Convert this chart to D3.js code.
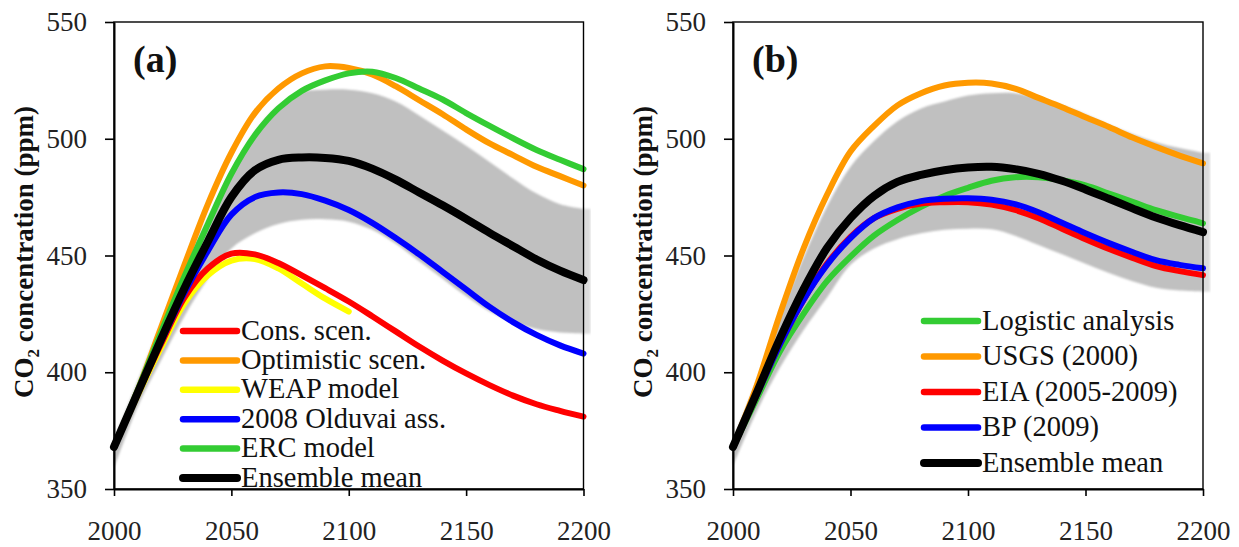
<!DOCTYPE html>
<html>
<head>
<meta charset="utf-8">
<script src="https://cdn.jsdelivr.net/npm/d3@7"></script>
<style>
  body { margin: 0; background: #fff; }
  svg { display: block; }
  text { font-family: "Liberation Serif", "DejaVu Serif", serif; }
</style>
</head>
<body>
<svg id="chart" width="1239" height="547"></svg>
<script>
// ---- shared axes ----
const years = [2000, 2010, 2020, 2030, 2040, 2050, 2060, 2070, 2080, 2090, 2100,
               2110, 2120, 2130, 2140, 2150, 2160, 2170, 2180, 2190, 2200];
const yearsTo2100 = [2000, 2010, 2020, 2030, 2040, 2050, 2060, 2070, 2080, 2090, 2100];
const xTicks = [2000, 2050, 2100, 2150, 2200];
const yTicks = [350, 400, 450, 500, 550];

// ---- panel (a): scenario / model projections (ppm) ----
const consScen   = [368, 390.5, 412, 432, 444.5, 450.8, 450.5, 446.8, 441.5, 436, 430.3,
                    424, 417.5, 411, 405, 399.5, 394.5, 390, 386.3, 383.5, 381];
const optimScen  = [368, 392, 419, 446, 472, 494, 511, 521.5, 528, 531, 530.3,
                    527.5, 522.5, 516.5, 510.5, 504, 498, 493, 488, 484, 480];
const weapModel  = [368, 390, 410.5, 429.5, 441.5, 447.8, 448.5, 444.5, 438, 431.5, 426];
const olduvai    = [368, 391, 413, 434, 452, 467.5, 475, 477, 476.3, 473.5, 469.5,
                    464, 457.5, 450.5, 443, 435.5, 428, 421.5, 416, 411.5, 408];
const ercModel   = [368, 392, 417, 441, 463.5, 485, 501.5, 513, 520.5, 525, 528,
                    528.7, 526, 521.5, 516.8, 511, 505.5, 500.2, 495.2, 491, 487];
const meanA      = [368, 391, 414, 436, 456, 475, 486.5, 491, 492, 491.8, 490.5,
                    487.2, 482.5, 477, 471.5, 465.7, 459.7, 454, 448.3, 443.5, 439.5];
const bandLowA   = [359, 385, 405, 424, 440, 453, 459.5, 463.5, 465.3, 465.5, 464.5,
                    461, 455, 447.5, 440, 432.5, 426, 421.5, 418.5, 417, 416.5];
const bandHighA  = [371, 396, 421, 446, 466, 486, 503, 514, 520, 521, 521,
                    519.5, 516, 510, 503.5, 497, 490, 483, 476.5, 472, 470];

// ---- panel (b): reserve-estimate projections (ppm) ----
const logistic   = [368, 388.5, 409, 425, 439, 449.5, 458.5, 465.2, 470.8, 475.5, 479,
                    482, 483.5, 483.5, 482.2, 480, 476.5, 473, 469.4, 466.5, 463.8];
const usgs       = [368, 394, 425, 453, 476, 494.5, 505.5, 514.3, 519.5, 522.8, 524,
                    523.7, 521.5, 517.5, 513.5, 509.2, 505, 500.5, 496.5, 492.8, 489.5];
const eia        = [368, 390, 412, 431, 446.5, 458, 466, 470, 472.3, 472.8, 472.8,
                    471.8, 469.5, 466, 461.5, 457, 452.8, 449, 445.5, 443.3, 441.6];
const bp         = [368, 390, 412, 431, 446, 457.5, 466, 470.6, 473.3, 474.3, 474.5,
                    473.9, 472, 468.5, 464, 459.5, 455.3, 451.5, 448, 446, 444.5];
const meanB      = [368, 391, 414.5, 435.5, 453.2, 466, 475.5, 481.5, 484.5, 486.5, 487.7,
                    488, 487, 485, 482, 478.3, 474.3, 470.2, 466.3, 463, 460];
const bandLowB   = [360, 383, 402, 418, 432, 446, 453, 457, 459.5, 461, 461.5,
                    461.2, 458.5, 454.5, 450.5, 446.5, 442.5, 439, 436.2, 435, 434.5];
const bandHighB  = [371, 396, 424, 449, 471, 488, 499, 507.5, 513, 516, 518.5,
                    519.5, 519.5, 517.5, 514.5, 510.5, 506, 502, 498.5, 496, 494];

const legendA = ["Cons. scen.", "Optimistic scen.", "WEAP model", "2008 Olduvai ass.", "ERC model", "Ensemble mean"];
const legendB = ["Logistic analysis", "USGS (2000)", "EIA (2005-2009)", "BP (2009)", "Ensemble mean"];

const C = { red: "#ff0000", orange: "#ff9900", yellow: "#ffff00", blue: "#0000ff", green: "#33cc33", black: "#000000" };

const panels = [
  {
    x0: 114, x1: 583.5, tag: "(a)",
    band: [bandLowA, bandHighA],
    // drawing order (bottom to top)
    series: [
      { x: yearsTo2100, y: weapModel, color: C.yellow, w: 6 },
      { x: years, y: consScen,  color: C.red,    w: 6 },
      { x: years, y: optimScen, color: C.orange, w: 6 },
      { x: years, y: ercModel,  color: C.green,  w: 6 },
      { x: years, y: olduvai,   color: C.blue,   w: 6 },
      { x: years, y: meanA,     color: C.black,  w: 8 }
    ],
    legend: { names: legendA, colors: [C.red, C.orange, C.yellow, C.blue, C.green, C.black],
              x: 183, y: 331, step: 29.4 }
  },
  {
    x0: 733, x1: 1203, tag: "(b)",
    band: [bandLowB, bandHighB],
    series: [
      { x: years, y: usgs,     color: C.orange, w: 6 },
      { x: years, y: logistic, color: C.green,  w: 6 },
      { x: years, y: eia,      color: C.red,    w: 6 },
      { x: years, y: bp,       color: C.blue,   w: 6 },
      { x: years, y: meanB,    color: C.black,  w: 8 }
    ],
    legend: { names: legendB, colors: [C.green, C.orange, C.red, C.blue, C.black],
              x: 924, y: 321, step: 35.5 }
  }
];

const FONT = "'Liberation Serif', 'DejaVu Serif', serif";
const svg = d3.select("#chart");
const defs = svg.append("defs");
defs.append("filter").attr("id", "soft").attr("x", "-5%").attr("y", "-5%").attr("width", "110%").attr("height", "110%")
  .append("feGaussianBlur").attr("stdDeviation", 1.3);

const yTop = 22, yBottom = 489;
const smooth = d3.curveCatmullRom.alpha(0.5);

panels.forEach(p => {
  const x = d3.scaleLinear().domain([2000, 2200]).range([p.x0, p.x1]);
  const y = d3.scaleLinear().domain([350, 550]).range([yBottom, yTop]);
  const g = svg.append("g");
  const last = years.length - 1;

  // uncertainty band of the ensemble, with its pale fringe past the last year
  g.append("rect")
    .attr("x", x(2200)).attr("width", 7)
    .attr("y", y(p.band[1][last])).attr("height", y(p.band[0][last]) - y(p.band[1][last]))
    .attr("fill", "#dcdcdc").attr("filter", "url(#soft)");
  const area = d3.area()
    .x((d, i) => x(years[i]))
    .y0((d, i) => y(p.band[0][i]))
    .y1((d, i) => y(p.band[1][i]))
    .curve(smooth);
  g.append("path").datum(p.band[0]).attr("d", area)
    .attr("fill", "#c0c0c0").attr("filter", "url(#soft)");

  // projection curves
  p.series.forEach(s => {
    const line = d3.line()
      .x((d, i) => x(s.x[i]))
      .y(d => y(d))
      .curve(smooth);
    g.append("path").datum(s.y).attr("d", line)
      .attr("fill", "none").attr("stroke", s.color).attr("stroke-width", s.w)
      .attr("stroke-linecap", "round").attr("stroke-linejoin", "round");
  });

  // frame
  g.append("rect").attr("x", p.x0).attr("y", yTop).attr("width", p.x1 - p.x0).attr("height", yBottom - yTop)
    .attr("fill", "none").attr("stroke", "#000").attr("stroke-width", 1.4);

  // axes
  const yAxis = g.append("g").attr("transform", `translate(${p.x0},0)`)
    .call(d3.axisLeft(y).tickValues(yTicks).tickSizeInner(9).tickSizeOuter(0).tickPadding(18));
  const xAxis = g.append("g").attr("transform", `translate(0,${yBottom})`)
    .call(d3.axisBottom(x).tickValues(xTicks).tickFormat(d3.format("d")).tickSizeInner(7).tickSizeOuter(0).tickPadding(25));
  [yAxis, xAxis].forEach(a => {
    a.attr("font-family", FONT);
    a.select(".domain").attr("stroke", "#000").attr("stroke-width", 2);
    a.selectAll(".tick line").attr("stroke", "#000").attr("stroke-width", 1.6);
    a.selectAll(".tick text").attr("fill", "#222").style("font-size", "27px").style("font-family", FONT);
  });

  // axis title
  const t = g.append("text")
    .attr("transform", `translate(${p.x0 - 81},252) rotate(-90)`)
    .attr("text-anchor", "middle").attr("font-weight", "bold").attr("font-size", 27)
    .attr("font-family", FONT).attr("fill", "#111");
  t.append("tspan").text("CO");
  t.append("tspan").text("2").attr("font-size", 17).attr("dy", 6);
  t.append("tspan").text(" concentration (ppm)").attr("dy", -6);

  // panel tag
  g.append("text").attr("x", p.x0 + 19).attr("y", 72).attr("font-family", FONT)
    .attr("font-weight", "bold").attr("font-size", 38).attr("fill", "#111").text(p.tag);

  // legend
  const L = p.legend;
  const lg = g.append("g");
  L.names.forEach((name, i) => {
    const yy = L.y + i * L.step;
    lg.append("line").attr("x1", L.x).attr("x2", L.x + 54).attr("y1", yy).attr("y2", yy)
      .attr("stroke", L.colors[i]).attr("stroke-width", L.colors[i] === C.black ? 8 : 6.5)
      .attr("stroke-linecap", "round");
    lg.append("text").attr("x", L.x + 58).attr("y", yy).attr("dy", "0.3em").attr("font-family", FONT)
      .attr("font-size", 28.5).attr("fill", "#111").text(name);
  });
});
</script>
</body>
</html>
